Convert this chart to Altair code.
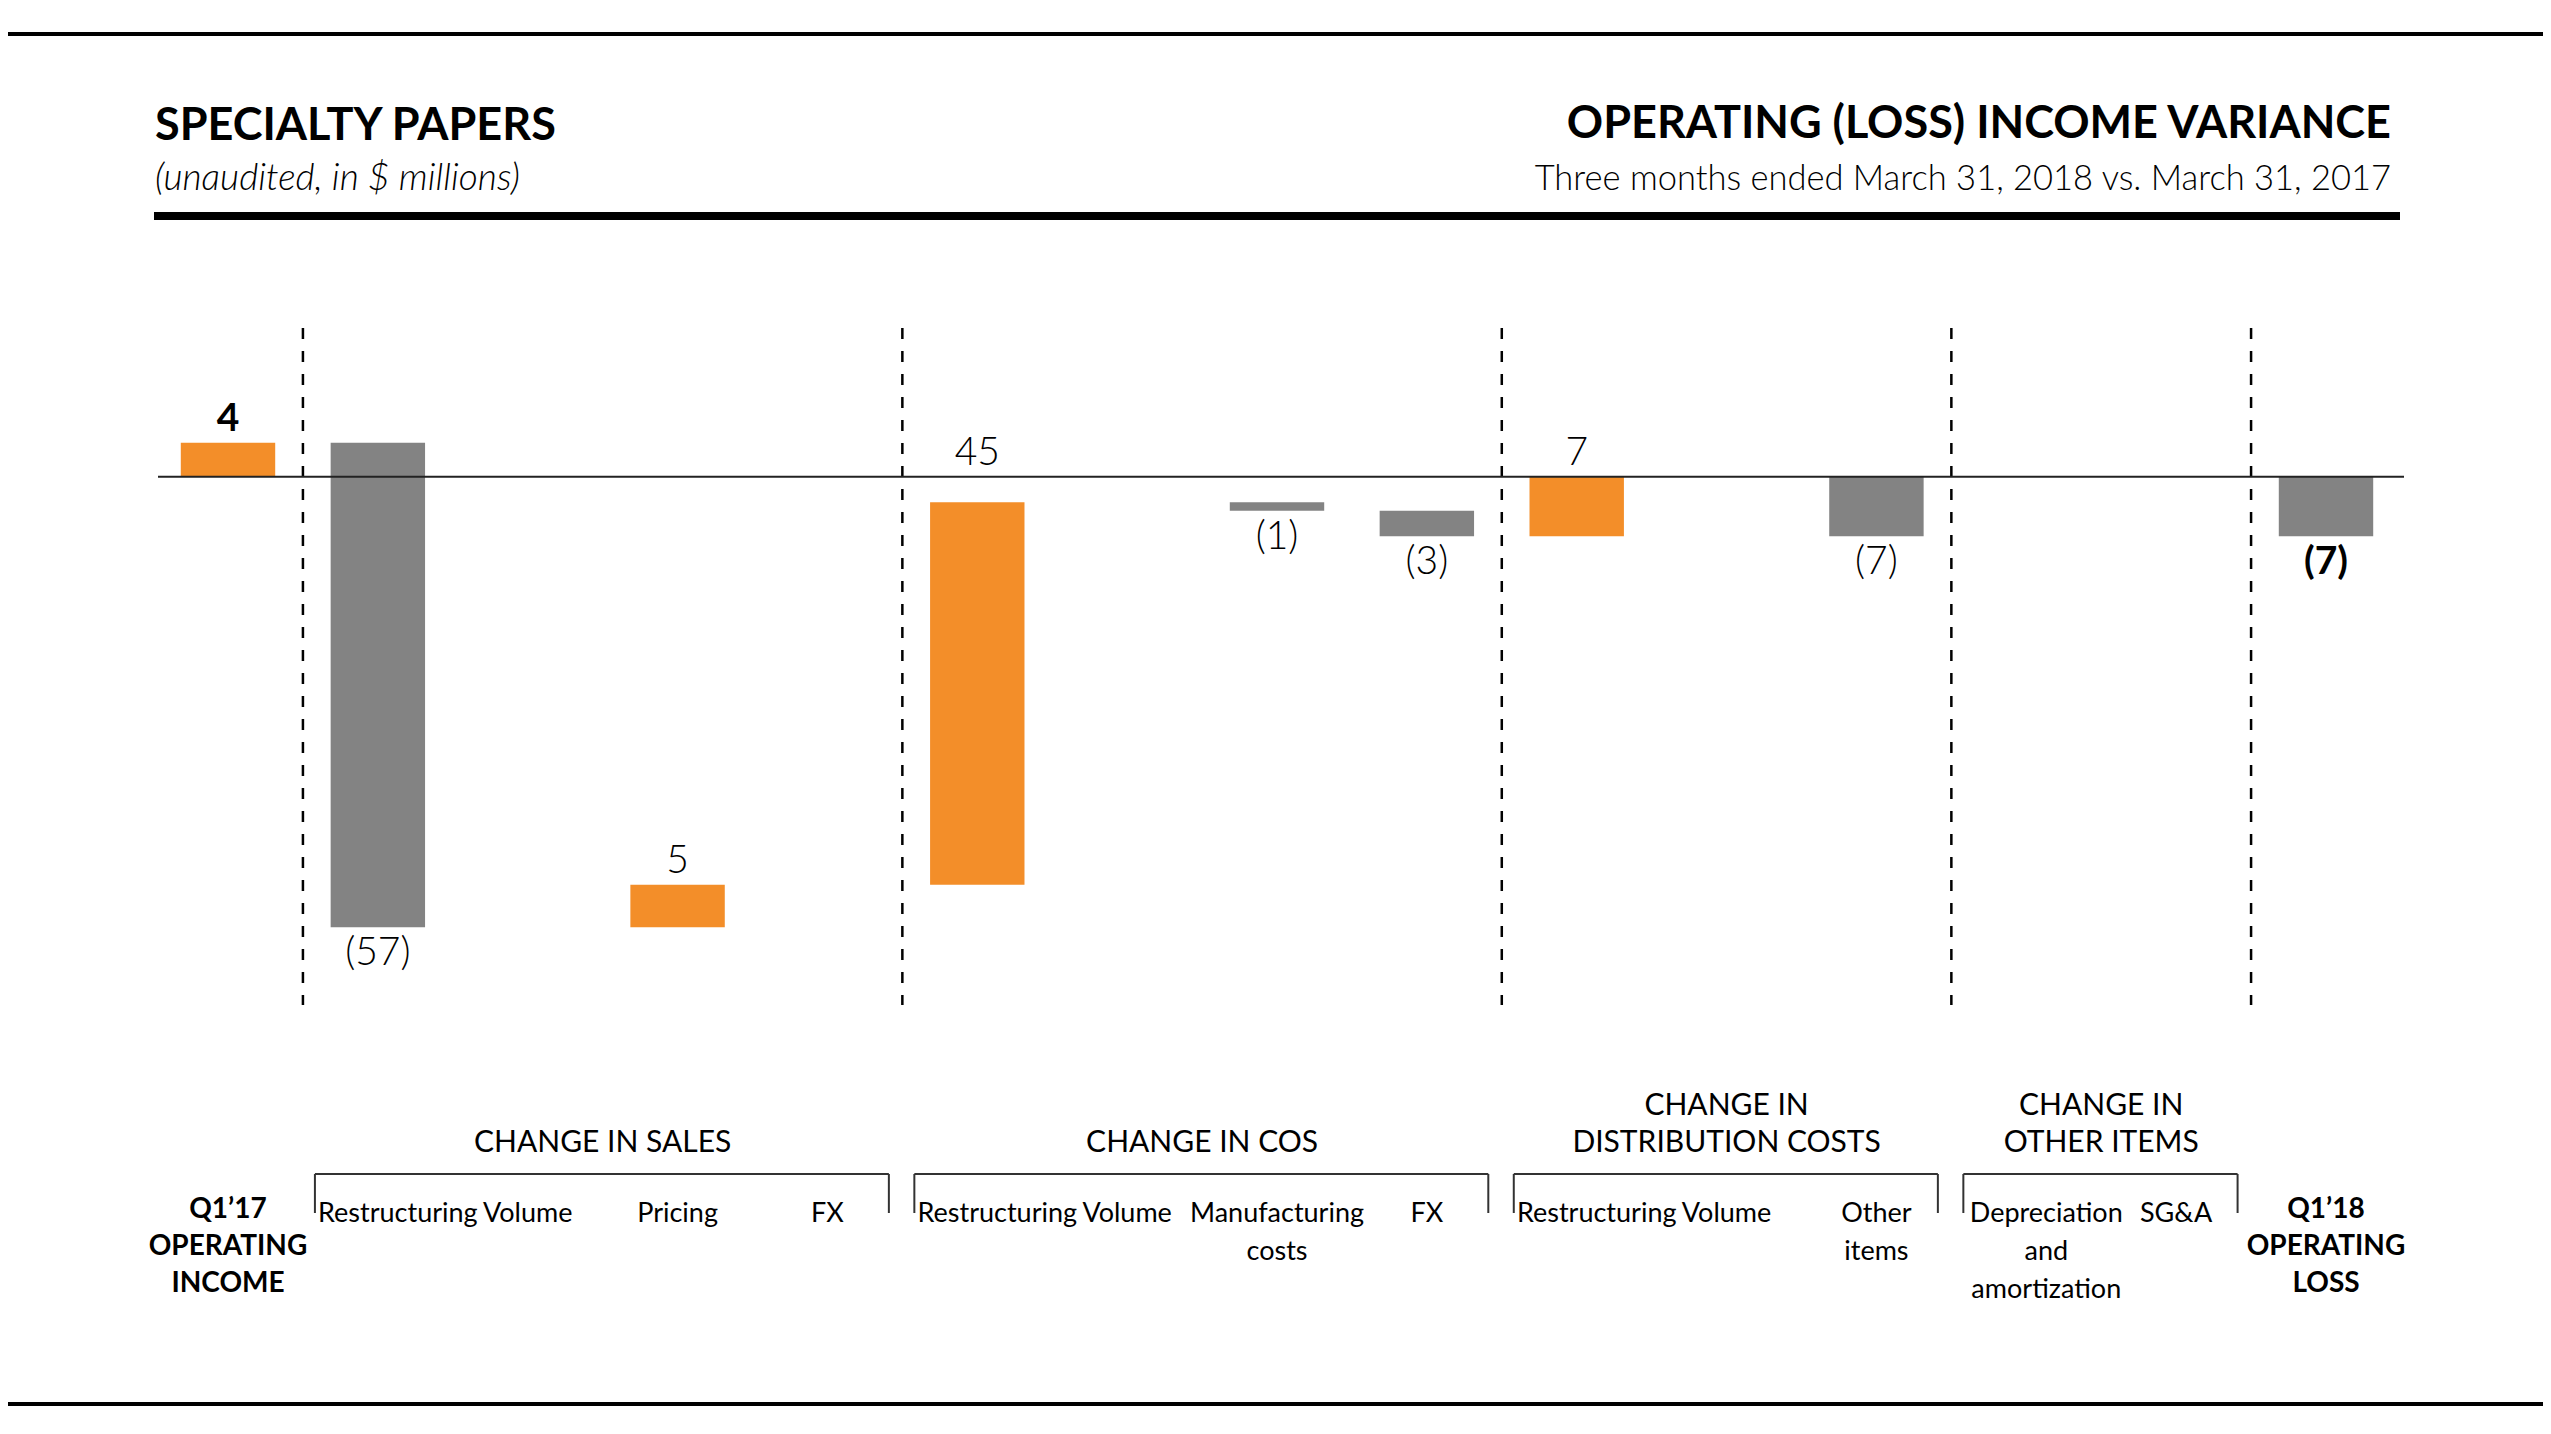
import altair as alt
import pandas as pd

# ---------------- data ----------------
categories = ["Q1’17\nOPERATING\nINCOME", "Restructuring", "Volume", "Pricing", "FX",
              "Restructuring", "Volume", "Manufacturing\ncosts", "FX",
              "Restructuring", "Volume", "Other\nitems",
              "Depreciation\nand\namortization", "SG&A",
              "Q1’18\nOPERATING\nLOSS"]
groups = ["", "CHANGE IN SALES", "CHANGE IN SALES", "CHANGE IN SALES", "CHANGE IN SALES",
          "CHANGE IN COS", "CHANGE IN COS", "CHANGE IN COS", "CHANGE IN COS",
          "CHANGE IN\nDISTRIBUTION COSTS", "CHANGE IN\nDISTRIBUTION COSTS",
          "CHANGE IN\nDISTRIBUTION COSTS",
          "CHANGE IN\nOTHER ITEMS", "CHANGE IN\nOTHER ITEMS", ""]
kinds = ["total"] + ["delta"] * 13 + ["total"]
values = [4, -57, None, 5, None, 45, None, -1, -3, 7, None, -7, None, None, -7]

title_left = "SPECIALTY PAPERS"
subtitle_left = "(unaudited, in $ millions)"
title_right = "OPERATING (LOSS) INCOME VARIANCE"
subtitle_right = "Three months ended March 31, 2018 vs. March 31, 2017"

ORANGE = "#F38E29"
GRAY = "#838383"

# ---------------- layout helpers ----------------
W, H = 2535, 1410
M = 8  # page margin


def px(v):
    return v - M


SANS = "Lato"

xs = alt.Scale(domain=[1, 15], range=[px(228), px(2326)], nice=False, zero=False)
ys = alt.Scale(domain=[0, -60], range=[px(476.7), px(476.7 + 510)], nice=False, zero=False)

one = pd.DataFrame({"a": [0]})

# ---------------- waterfall computation ----------------
rows = []
running = 0
for i, (cat, grp, kind, v) in enumerate(zip(categories, groups, kinds, values)):
    pos = i + 1
    if v is None:
        continue
    if kind == "total":
        start, end = 0, v
        running = v
    else:
        start, end = running, running + v
        running = end
    top, bottom = max(start, end), min(start, end)
    if v > 0:
        anchor = 0 if -6 < top < 0 else top
        text = f"{v}"
    else:
        anchor = bottom
        text = f"({-v})"
    rows.append(dict(pos=pos, x0=pos - 0.315, x1=pos + 0.315, start=start, end=end,
                     col=ORANGE if v > 0 else GRAY, anchor=anchor, text=text,
                     kind=kind, sign="pos" if v > 0 else "neg"))
bar_df = pd.DataFrame(rows)

cat_df = pd.DataFrame({"pos": range(1, 16), "label": categories, "group": groups, "kind": kinds})
first_flags = []
for i, g in enumerate(groups):
    first_flags.append(g != "" and (i == 0 or groups[i - 1] != g))
cat_df["first"] = first_flags

# separators between groups
seps = [i + 1.5 for i in range(len(groups) - 1) if groups[i] != groups[i + 1]]
sep_df = pd.DataFrame({"x": seps})

# brackets
brk = []
for g in dict.fromkeys(groups):
    if g == "":
        continue
    ps = [i + 1 for i, gg in enumerate(groups) if gg == g]
    brk.append(dict(group=g, xa=min(ps) - 0.42, xb=max(ps) + 0.41, xm=(min(ps) + max(ps)) / 2))
brk_df = pd.DataFrame(brk)
tick_df = pd.DataFrame({"x": list(brk_df["xa"]) + list(brk_df["xb"])})

layers = []

# rules (frame)
layers.append(alt.Chart(one).mark_rule(color="black", strokeWidth=4).encode(
    x=alt.value(0), x2=alt.value(W), y=alt.value(px(34))))
layers.append(alt.Chart(one).mark_rule(color="black", strokeWidth=4).encode(
    x=alt.value(0), x2=alt.value(W), y=alt.value(px(1404))))
layers.append(alt.Chart(one).mark_rule(color="black", strokeWidth=8).encode(
    x=alt.value(px(154)), x2=alt.value(px(2400)), y=alt.value(px(216))))


# titles
def text_value(txt, x, y, size, weight=400, align="left", font=SANS, style="normal"):
    return alt.Chart(one).mark_text(
        text=txt, font=font, fontSize=size, fontWeight=weight, align=align,
        baseline="alphabetic", fontStyle=style, color="black"
    ).encode(x=alt.value(x), y=alt.value(y))


layers.append(text_value(title_left, px(155), px(140), 45, 700))
layers.append(text_value(subtitle_left, px(155), px(190), 37, 300, style="italic"))
layers.append(text_value(title_right, px(2391), px(138), 45, 700, align="right"))
layers.append(text_value(subtitle_right, px(2391), px(190), 34.5, 300, align="right"))

# dashed separators
layers.append(alt.Chart(sep_df).mark_rule(color="black", strokeWidth=2.5, strokeDash=[11, 12]).encode(
    x=alt.X("x:Q", scale=xs, axis=None), y=alt.value(px(328)), y2=alt.value(px(1005))))

# bars
layers.append(alt.Chart(bar_df).mark_bar().encode(
    x=alt.X("x0:Q", scale=xs, axis=None), x2="x1:Q",
    y=alt.Y("start:Q", scale=ys, axis=None), y2="end:Q",
    color=alt.Color("col:N", scale=None)))

# zero line
layers.append(alt.Chart(pd.DataFrame({"z": [0]})).mark_rule(color="#222222", strokeWidth=2).encode(
    y=alt.Y("z:Q", scale=ys, axis=None), x=alt.value(px(158)), x2=alt.value(px(2404))))

# value labels
for kind, weight in (("delta", 300), ("total", 700)):
    for sign, dy in (("pos", -12), ("neg", 38)):
        sub = bar_df[(bar_df["kind"] == kind) & (bar_df["sign"] == sign)]
        if len(sub) == 0:
            continue
        layers.append(alt.Chart(sub).mark_text(
            font=SANS, fontSize=39, fontWeight=weight, align="center",
            baseline="alphabetic", dy=dy, color="black").encode(
            x=alt.X("pos:Q", scale=xs, axis=None),
            y=alt.Y("anchor:Q", scale=ys, axis=None),
            text="text:N"))

# brackets
layers.append(alt.Chart(brk_df).mark_rule(color="#333333", strokeWidth=2).encode(
    x=alt.X("xa:Q", scale=xs, axis=None), x2="xb:Q", y=alt.value(px(1174))))
layers.append(alt.Chart(tick_df).mark_rule(color="#333333", strokeWidth=2).encode(
    x=alt.X("x:Q", scale=xs, axis=None), y=alt.value(px(1174)), y2=alt.value(px(1213))))

# group headers
for _, r in brk_df.iterrows():
    n = r["group"].count("\n") + 1
    layers.append(alt.Chart(pd.DataFrame([r])).mark_text(
        font=SANS, fontSize=30, fontWeight=400, align="center", baseline="alphabetic",
        lineBreak="\n", lineHeight=37, color="black").encode(
        x=alt.X("xm:Q", scale=xs, axis=None),
        y=alt.value(px(1152 - (n - 1) * 37)),
        text="group:N"))

# category labels
reg = cat_df[cat_df["kind"] == "delta"]
for first, dx in ((True, 20), (False, 0)):
    sub = reg[reg["first"] == first]
    layers.append(alt.Chart(sub).mark_text(
        font=SANS, fontSize=27, fontWeight=400, align="center", baseline="alphabetic",
        lineBreak="\n", lineHeight=38, dx=dx, color="black").encode(
        x=alt.X("pos:Q", scale=xs, axis=None),
        y=alt.value(px(1222)),
        text="label:N"))
tot = cat_df[cat_df["kind"] == "total"]
layers.append(alt.Chart(tot).mark_text(
    font=SANS, fontSize=28, fontWeight=700, align="center", baseline="alphabetic",
    lineBreak="\n", lineHeight=37, color="black").encode(
    x=alt.X("pos:Q", scale=xs, axis=None),
    y=alt.value(px(1218)),
    text="label:N"))

chart = alt.layer(*layers).properties(
    width=W, height=H, padding=0, autosize=alt.AutoSizeParams(type="none"),
    background="white"
).configure_view(stroke=None)

chart.save("out.html", embed_options={"renderer": "svg", "actions": False})
